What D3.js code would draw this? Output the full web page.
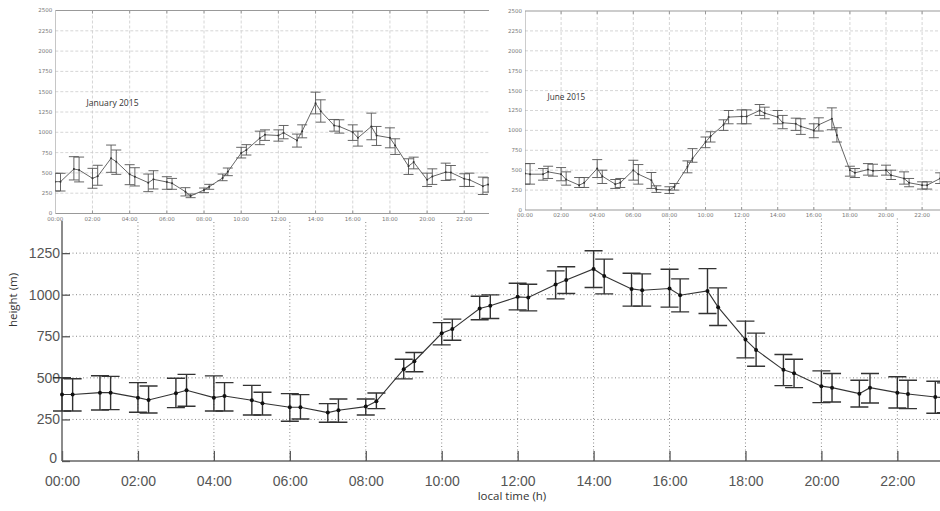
<!DOCTYPE html>
<html>
<head>
<meta charset="utf-8">
<script src="https://cdn.jsdelivr.net/npm/d3@7"></script>
<style>
  body { margin: 0; background: #fff; }
  svg { display: block; }
</style>
</head>
<body>
<div id="chart"></div>
<script>
// sample times (decimal hours): each hour plus a second sounding ~17 min later
const hours = [];
for (let h = 0; h < 24; h++) { hours.push(h, h + 0.28); }

// main panel: mean height and error bar limits (m)
const mainMean = [400, 400, 411, 411, 381, 367, 407, 425, 381, 391, 365, 347, 323, 323, 291, 305, 327, 359, 552, 600, 768, 793, 917, 933,
  987, 983, 1061, 1089, 1155, 1113, 1035, 1027, 1037, 997, 1023, 925, 730, 668, 548, 528, 450, 441, 405, 441, 411, 403, 385, 380];
const mainHi = [501, 495, 513, 509, 471, 451, 498, 521, 512, 471, 455, 413, 405, 399, 345, 373, 373, 409, 612, 652, 832, 853, 991, 999,
  1069, 1063, 1143, 1168, 1264, 1214, 1129, 1125, 1153, 1095, 1157, 1041, 841, 769, 640, 612, 542, 526, 486, 526, 507, 486, 480, 470];
const mainLo = [301, 301, 307, 309, 293, 289, 321, 329, 301, 301, 277, 277, 239, 253, 233, 233, 277, 315, 494, 537, 698, 726, 849, 857,
  909, 903, 975, 1007, 1043, 1005, 931, 931, 925, 897, 887, 815, 620, 570, 453, 441, 351, 355, 325, 349, 319, 315, 287, 290];

// January 2015 inset
const janMean = [392, 392, 548, 536, 433, 458, 680, 638, 482, 453, 380, 421, 388, 372, 269, 216, 289, 330, 437, 515, 745, 782, 928, 969,
  961, 994, 900, 1014, 1359, 1260, 1084, 1072, 1002, 932, 1072, 961, 932, 838, 583, 633, 415, 456, 509, 505, 427, 415, 337, 358];
const janHi = [495, 495, 700, 695, 556, 594, 843, 782, 601, 564, 486, 527, 453, 432, 318, 240, 314, 359, 486, 560, 815, 848, 1014, 1030,
  1030, 1084, 978, 1092, 1494, 1400, 1158, 1154, 1092, 1014, 1236, 1072, 1055, 920, 674, 694, 497, 550, 620, 591, 489, 497, 448, 440];
const janLo = [277, 277, 413, 389, 311, 348, 507, 482, 355, 339, 269, 302, 298, 298, 216, 195, 257, 298, 404, 466, 684, 720, 848, 900,
  891, 920, 818, 932, 1227, 1125, 1014, 990, 900, 830, 908, 838, 809, 727, 481, 550, 333, 358, 407, 415, 333, 333, 234, 263];

// June 2015 inset
const junMean = [458, 450, 450, 479, 450, 383, 312, 342, 521, 425, 325, 342, 500, 450, 375, 258, 250, 292, 542, 646, 854, 925, 1071, 1167,
  1175, 1175, 1250, 1217, 1167, 1096, 1083, 1050, 1000, 1071, 1146, 938, 500, 467, 508, 492, 500, 438, 396, 342, 312, 312, 396, 400];
const junHi = [583, 583, 521, 550, 533, 479, 408, 408, 633, 500, 383, 396, 625, 571, 471, 304, 292, 333, 617, 771, 917, 983, 1133, 1250,
  1258, 1258, 1325, 1292, 1250, 1188, 1154, 1146, 1083, 1158, 1283, 1033, 550, 521, 583, 575, 563, 500, 479, 396, 354, 354, 467, 470];
const junLo = [325, 325, 375, 396, 367, 312, 283, 283, 408, 333, 271, 283, 375, 325, 271, 221, 208, 250, 467, 600, 783, 854, 1000, 1083,
  1083, 1083, 1188, 1146, 1083, 1021, 1000, 950, 908, 992, 1008, 854, 425, 408, 438, 425, 438, 383, 325, 292, 263, 263, 333, 330];

const hourTicks = [0, 2, 4, 6, 8, 10, 12, 14, 16, 18, 20, 22];
const mainYTicks = [0, 250, 500, 750, 1000, 1250];
const insetYTicks = [0, 250, 500, 750, 1000, 1250, 1500, 1750, 2000, 2250, 2500];
const insetTitles = ["January 2015", "June 2015"];

const fmtHour = h => (h < 10 ? "0" : "") + h + ":00";

const width = 940, height = 511;

const svg = d3.select("#chart").append("svg")
  .attr("width", width)
  .attr("height", height);

svg.append("rect").attr("width", width).attr("height", height).attr("fill", "#fff");

const rows = hours.map((h, i) => ({ h: h, m: mainMean[i], lo: mainLo[i], hi: mainHi[i] }));

// ---------- main panel ----------
const x = d3.scaleLinear().domain([0, 24]).range([62, 62 + 24 * 37.97]);
const y = d3.scaleLinear().domain([0, 1500]).range([461, 461 - 1500 * 0.1663]);

const main = svg.append("g");

// dotted grid
main.append("g")
  .selectAll("line.h")
  .data(mainYTicks.filter(d => d > 0))
  .enter().append("line")
  .attr("x1", x(0)).attr("x2", width)
  .attr("y1", d => y(d)).attr("y2", d => y(d))
  .attr("stroke", "#888").attr("stroke-width", 1).attr("stroke-dasharray", "1,2.5");

main.append("g")
  .selectAll("line.v")
  .data(hourTicks.filter(d => d > 0))
  .enter().append("line")
  .attr("x1", d => x(d)).attr("x2", d => x(d))
  .attr("y1", y(0)).attr("y2", y(1500))
  .attr("stroke", "#888").attr("stroke-width", 1).attr("stroke-dasharray", "1,2.5");

// axes
const xAxis = main.append("g")
  .attr("transform", "translate(0," + y(0) + ")")
  .call(d3.axisBottom(x).tickValues(hourTicks).tickFormat(fmtHour).tickSize(-10).tickPadding(6));
xAxis.select(".domain").attr("stroke", "#666").attr("stroke-width", 1.5).attr("d", "M" + x(0) + ",0H" + width);
xAxis.selectAll(".tick line").attr("stroke", "#555").attr("stroke-width", 1.3);
xAxis.selectAll("text")
  .attr("y", 15.5)
  .style("font-family", "Liberation Sans, Arial, sans-serif")
  .style("font-size", "14px")
  .attr("fill", "#555");

const yAxis = main.append("g")
  .attr("transform", "translate(" + x(0) + ",0)")
  .call(d3.axisLeft(y).tickValues(mainYTicks).tickFormat(d3.format("d")).tickSize(-8).tickPadding(2));
yAxis.select(".domain").attr("stroke", "#666").attr("stroke-width", 1.5).attr("d", "M0," + y(0) + "V" + y(1500));
yAxis.selectAll(".tick line").attr("stroke", "#555").attr("stroke-width", 1.3);
yAxis.selectAll("text")
  .style("font-family", "Liberation Sans, Arial, sans-serif")
  .style("font-size", "14px")
  .attr("fill", "#555");
yAxis.selectAll(".tick").filter(d => d === 0).select("text").attr("dy", "0.1em").attr("x", -5);

// error bars
const eb = main.append("g").attr("stroke", "#333").attr("stroke-width", 1.4).attr("fill", "none");
eb.selectAll("path")
  .data(rows)
  .enter().append("path")
  .attr("d", d => {
    const cx = x(d.h), t = y(d.hi), b = y(d.lo), w = 9;
    return "M" + (cx - w) + "," + t + "H" + (cx + w) + "M" + cx + "," + t + "V" + b + "M" + (cx - w) + "," + b + "H" + (cx + w);
  });

main.append("path")
  .datum(rows)
  .attr("fill", "none")
  .attr("stroke", "#333")
  .attr("stroke-width", 1.1)
  .attr("d", d3.line().x(d => x(d.h)).y(d => y(d.m)));

main.append("g")
  .selectAll("circle")
  .data(rows)
  .enter().append("circle")
  .attr("cx", d => x(d.h)).attr("cy", d => y(d.m)).attr("r", 2)
  .attr("fill", "#111");

// axis titles
main.append("text")
  .attr("transform", "translate(17,300) rotate(-90)")
  .attr("text-anchor", "middle")
  .style("font-family", "Open Sans, sans-serif")
  .style("font-size", "11.5px")
  .attr("fill", "#333")
  .text("height (m)");

main.append("text")
  .attr("x", 512).attr("y", 500)
  .attr("text-anchor", "middle")
  .style("font-family", "Open Sans, sans-serif")
  .style("font-size", "11.5px")
  .attr("fill", "#333")
  .text("local time (h)");

// ---------- inset panels ----------
function drawInset(cfg) {
  const g = svg.append("g");
  g.append("rect")
    .attr("x", cfg.bx0).attr("y", 0)
    .attr("width", cfg.bx1 - cfg.bx0).attr("height", cfg.bh)
    .attr("fill", "#fff");

  const ix = d3.scaleLinear().domain([0, 24]).range([cfg.x0, cfg.x0 + 24 * cfg.px]);
  const iy = d3.scaleLinear().domain([0, 2500]).range([cfg.y0, cfg.y1]);
  const right = cfg.bx1;

  const clipId = "clip" + cfg.id;
  g.append("clipPath").attr("id", clipId)
    .append("rect").attr("x", cfg.x0).attr("y", 0).attr("width", right - cfg.x0).attr("height", cfg.bh);

  const plot = g.append("g").attr("clip-path", "url(#" + clipId + ")");

  // dashed grid
  plot.append("g").selectAll("line")
    .data(insetYTicks.filter(d => d > 0 && d < 2500))
    .enter().append("line")
    .attr("x1", cfg.x0).attr("x2", right)
    .attr("y1", d => iy(d)).attr("y2", d => iy(d))
    .attr("stroke", "#ccc").attr("stroke-width", 0.8).attr("stroke-dasharray", "3,2");
  plot.append("g").selectAll("line")
    .data(hourTicks.filter(d => d > 0))
    .enter().append("line")
    .attr("x1", d => ix(d)).attr("x2", d => ix(d))
    .attr("y1", cfg.y0).attr("y2", cfg.y1)
    .attr("stroke", "#ccc").attr("stroke-width", 0.8).attr("stroke-dasharray", "3,2");

  // frame
  plot.append("path")
    .attr("d", "M" + right + "," + cfg.y1 + "H" + cfg.x0 + "V" + cfg.y0 + "H" + right)
    .attr("fill", "none").attr("stroke", "#999").attr("stroke-width", 1);

  // ticks on top and bottom
  plot.append("g").selectAll("path")
    .data(hourTicks.filter(d => d > 0))
    .enter().append("path")
    .attr("d", d => "M" + ix(d) + "," + cfg.y1 + "v3M" + ix(d) + "," + cfg.y0 + "v-3")
    .attr("stroke", "#999").attr("stroke-width", 1);

  const data = hours.map((h, i) => ({ h: h, m: cfg.mean[i], lo: cfg.lo[i], hi: cfg.hi[i] }));

  plot.append("g").attr("stroke", "#555").attr("stroke-width", 0.9).attr("fill", "none")
    .selectAll("path")
    .data(data)
    .enter().append("path")
    .attr("d", d => {
      const cx = ix(d.h), t = iy(d.hi), b = iy(d.lo), w = 5;
      return "M" + (cx - w) + "," + t + "H" + (cx + w) + "M" + cx + "," + t + "V" + b + "M" + (cx - w) + "," + b + "H" + (cx + w);
    });

  plot.append("path")
    .datum(data)
    .attr("fill", "none").attr("stroke", "#555").attr("stroke-width", 0.9)
    .attr("d", d3.line().x(d => ix(d.h)).y(d => iy(d.m)));

  plot.append("g").selectAll("circle")
    .data(data)
    .enter().append("circle")
    .attr("cx", d => ix(d.h)).attr("cy", d => iy(d.m)).attr("r", 1)
    .attr("fill", "#333");

  // tick labels
  g.append("g").selectAll("text")
    .data(insetYTicks)
    .enter().append("text")
    .attr("x", cfg.x0 - 3).attr("y", d => iy(d)).attr("dy", "0.35em")
    .attr("text-anchor", "end")
    .style("font-family", "DejaVu Sans, sans-serif")
    .style("font-size", "5.5px")
    .attr("fill", "#777")
    .text(d => d);

  g.append("g").selectAll("text")
    .data(hourTicks)
    .enter().append("text")
    .attr("x", d => ix(d)).attr("y", cfg.y0 + 7)
    .attr("text-anchor", "middle")
    .style("font-family", "DejaVu Sans, sans-serif")
    .style("font-size", "5.5px")
    .attr("fill", "#777")
    .text(fmtHour);

  g.append("text")
    .attr("x", cfg.tx).attr("y", cfg.ty)
    .style("font-family", "Open Sans, sans-serif")
    .style("font-size", cfg.tsize + "px")
    .attr("fill", "#333")
    .text(cfg.title);
}

drawInset({
  id: "jan", bx0: 0, bx1: 489, bh: 221,
  x0: 55.3, px: 18.59, y0: 213.5, y1: 10.5,
  mean: janMean, lo: janLo, hi: janHi,
  title: insetTitles[0], tx: 86.5, ty: 105.5, tsize: 8.6
});

drawInset({
  id: "jun", bx0: 491, bx1: 940, bh: 217,
  x0: 525, px: 18.05, y0: 210, y1: 11,
  mean: junMean, lo: junLo, hi: junHi,
  title: insetTitles[1], tx: 547.5, ty: 99.5, tsize: 8.2
});
</script>
</body>
</html>
